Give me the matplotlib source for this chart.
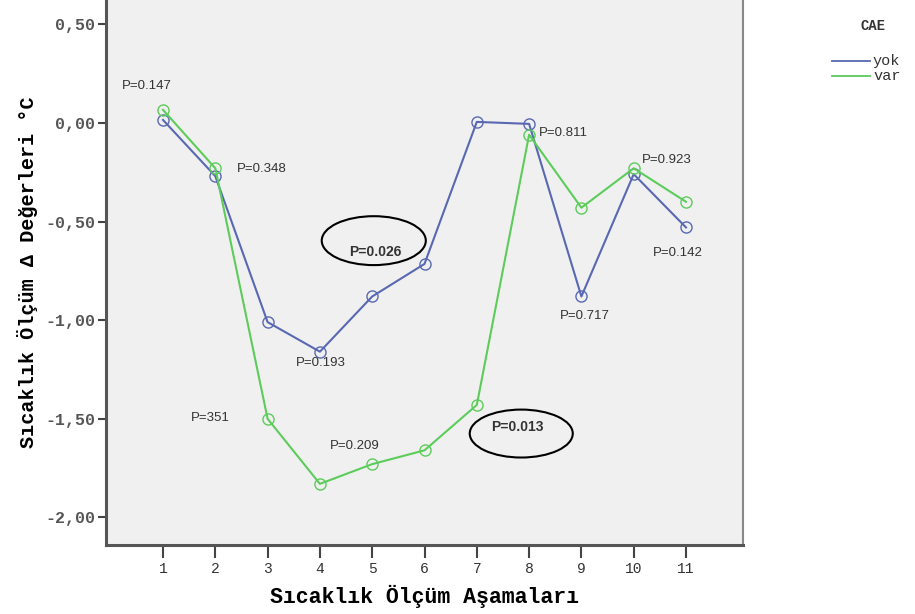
import matplotlib
matplotlib.use("Agg")
import matplotlib.pyplot as plt
from matplotlib.patches import Ellipse
from matplotlib.lines import Line2D

stages = [1, 2, 3, 4, 5, 6, 7, 8, 9, 10, 11]
yok = [0.015, -0.27, -1.01, -1.16, -0.88, -0.715, 0.005, -0.005, -0.88, -0.26, -0.53]
var = [0.066, -0.23, -1.50, -1.83, -1.73, -1.66, -1.43, -0.06, -0.43, -0.23, -0.40]
y_ticks = [0.5, 0.0, -0.5, -1.0, -1.5, -2.0]
y_tick_labels = ["0,50", "0,00", "-0,50", "-1,00", "-1,50", "-2,00"]
p_labels = ["P=0.147", "P=0.348", "P=0.193", "P=351", "P=0.209",
            "P=0.811", "P=0.923", "P=0.717", "P=0.142"]
p_pos = [(0.69, 0.187), (2.89, -0.233), (4.02, -1.215), (1.90, -1.494), (4.67, -1.64),
         (8.65, -0.05), (10.64, -0.187), (9.07, -0.98), (10.85, -0.66)]
circled = ["P=0.026", "P=0.013"]
circled_text_pos = [(5.05, -0.653), (7.77, -1.544)]
circled_ell = [(5.03, -0.597, 1.99, 0.248), (7.85, -1.575, 1.97, 0.243)]
series_names = ["yok", "var"]
legend_title = "CAE"

blue = "#5868b2"
green = "#5ccc5a"
mono = ["Liberation Mono", "DejaVu Sans Mono"]

W, H = 915, 614
fig = plt.figure(figsize=(W/100, H/100), dpi=100)
ax = fig.add_axes([106/W, 69/H, (743-106)/W, 545/H])
ax.set_facecolor("#f0f0f0")

ax.plot(stages, yok, color=blue, lw=1.5, marker="o", ms=8, mfc="none", mec=blue, mew=1.0, label=series_names[0], zorder=3)
ax.plot(stages, var, color=green, lw=1.5, marker="o", ms=8, mfc="none", mec=green, mew=1.0, label=series_names[1], zorder=3)

ax.set_xlim(-0.09, 12.09)
ax.set_ylim(-2.14, 0.623)
ax.set_xticks(stages)
ax.set_xticklabels([str(s) for s in stages], family=mono, fontsize=10.5, color="#333333")
ax.set_yticks(y_ticks)
ax.set_yticklabels(y_tick_labels, family=mono, fontsize=12, fontweight="bold", color="#555555")
ax.tick_params(axis="x", length=9, width=1.5, color="#444444", pad=3)
ax.tick_params(axis="y", length=6, width=1.5, color="#444444", pad=2)

for side in ["left", "bottom"]:
    ax.spines[side].set_linewidth(2.2)
    ax.spines[side].set_color("#555555")
ax.spines["right"].set_linewidth(1.5)
ax.spines["right"].set_color("#888888")
ax.spines["top"].set_visible(False)

ax.set_xlabel("Sıcaklık Ölçüm Aşamaları", family=mono, fontsize=15.5, fontweight="bold", labelpad=7)
ax.set_ylabel("Sıcaklık Ölçüm Δ Değerleri °C", family=mono, fontsize=14.5, fontweight="bold", labelpad=5)

for txt, (x, y) in zip(p_labels, p_pos):
    ax.text(x, y, txt, ha="center", va="center", fontsize=9.5, family="Liberation Sans", color="#333333", zorder=4)

for txt, (x, y), (ex, ey, ew, eh) in zip(circled, circled_text_pos, circled_ell):
    ax.text(x, y, txt, ha="center", va="center", fontsize=10, family="Liberation Sans",
            fontweight="bold", color="#333333", zorder=4)
    ax.add_patch(Ellipse((ex, ey), ew, eh, fill=False, edgecolor="black", lw=1.5, zorder=5))

# legend drawn in figure pixel coordinates
fig.text(873/W, 1 - 26/H, legend_title, ha="center", va="center", family=mono,
         fontsize=10, fontweight="bold", color="#333333")
for name, col, ypx in zip(series_names, [blue, green], [61, 76]):
    fig.add_artist(Line2D([832/W, 870/W], [1 - ypx/H, 1 - ypx/H], color=col, lw=1.3,
                          transform=fig.transFigure))
    fig.text(873/W, 1 - ypx/H, name, ha="left", va="center", family=mono,
             fontsize=11, color="#333333")

fig.savefig("out.png", dpi=100)
